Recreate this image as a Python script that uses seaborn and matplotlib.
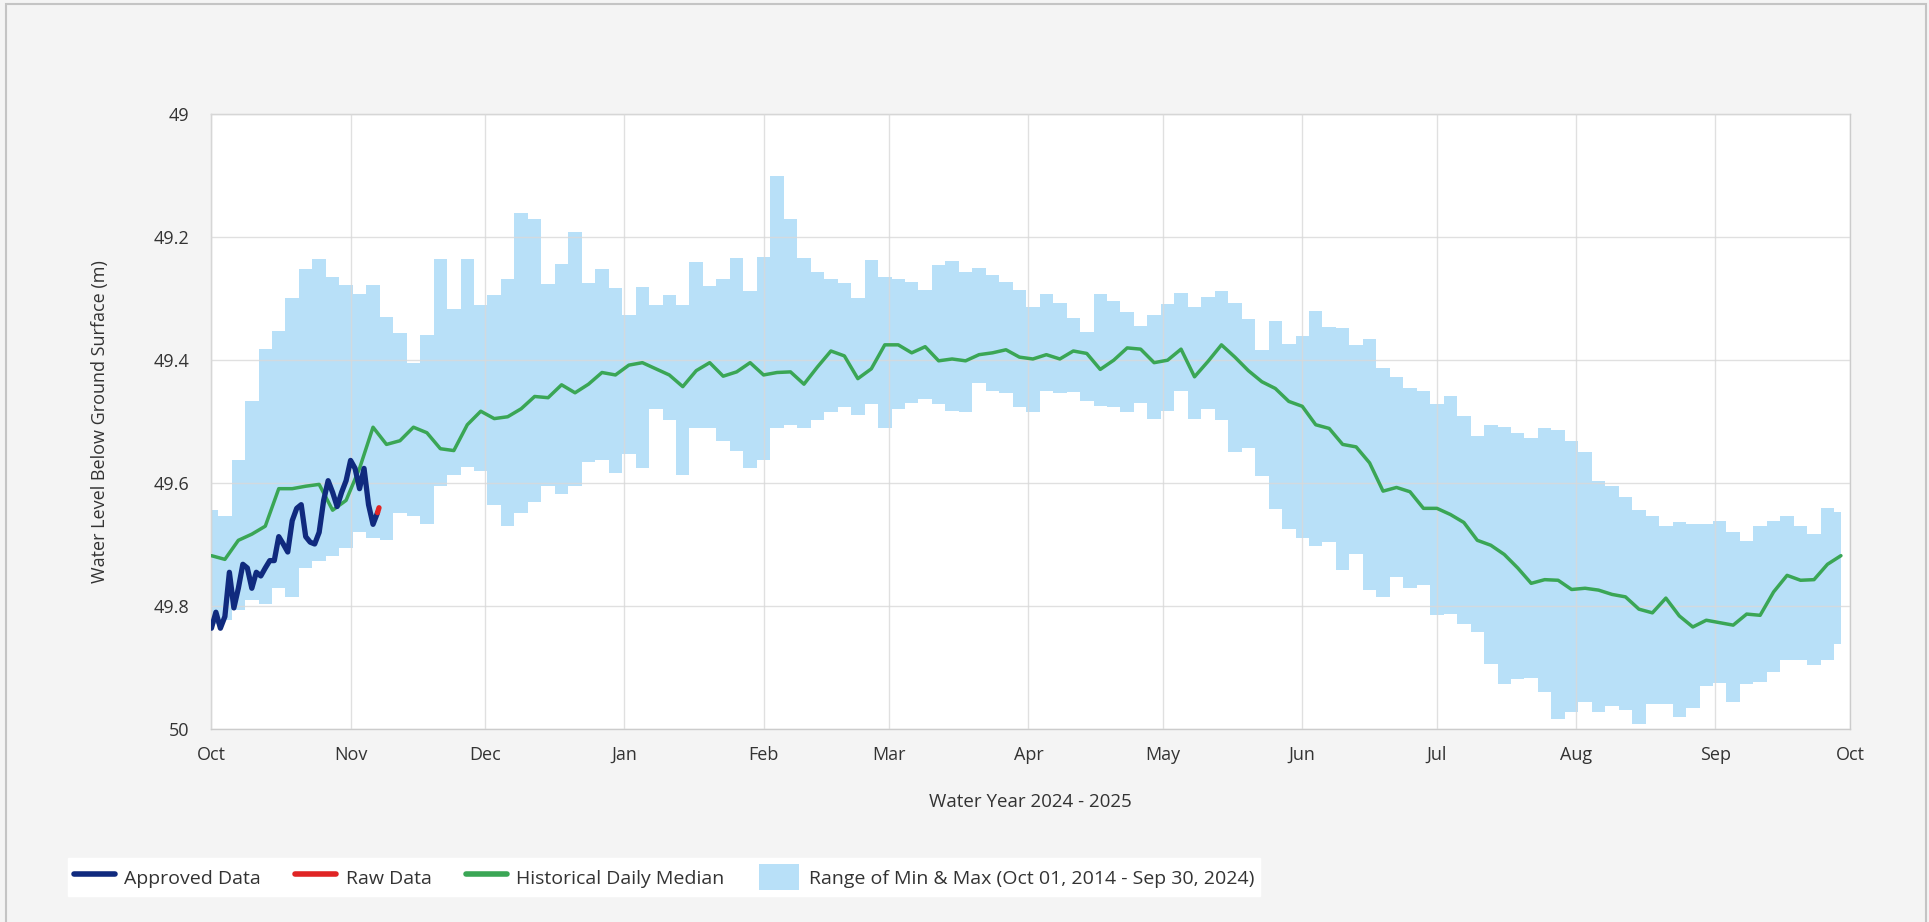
import matplotlib
matplotlib.use("Agg")
import matplotlib.pyplot as plt
import matplotlib.dates as mdates
from matplotlib.lines import Line2D
from matplotlib.patches import Patch, Rectangle
from matplotlib.ticker import FuncFormatter
import pandas as pd
import seaborn as sns

# historical daily stats, read every 3rd day starting Oct 01
hist_start = "2024-10-01"
hist_step_days = 3
hist_shallowest = [
    49.643, 49.654, 49.563, 49.466, 49.382, 49.352, 49.299, 49.252, 49.236, 49.265,
    49.278, 49.292, 49.278, 49.330, 49.356, 49.405, 49.359, 49.236, 49.317, 49.236,
    49.310, 49.294, 49.268, 49.160, 49.170, 49.276, 49.244, 49.192, 49.274, 49.252,
    49.282, 49.326, 49.281, 49.310, 49.294, 49.310, 49.241, 49.280, 49.268, 49.234,
    49.287, 49.232, 49.100, 49.170, 49.234, 49.257, 49.268, 49.274, 49.298, 49.237,
    49.265, 49.268, 49.273, 49.286, 49.245, 49.238, 49.257, 49.250, 49.262, 49.273,
    49.286, 49.313, 49.292, 49.307, 49.331, 49.354, 49.292, 49.304, 49.322, 49.344,
    49.326, 49.309, 49.291, 49.313, 49.297, 49.288, 49.307, 49.333, 49.384, 49.336,
    49.374, 49.360, 49.320, 49.346, 49.348, 49.375, 49.365, 49.413, 49.428, 49.445,
    49.450, 49.472, 49.458, 49.491, 49.523, 49.505, 49.508, 49.518, 49.526, 49.511,
    49.514, 49.532, 49.550, 49.596, 49.605, 49.622, 49.644, 49.653, 49.670, 49.664,
    49.666, 49.666, 49.661, 49.680, 49.694, 49.670, 49.662, 49.653, 49.670, 49.683,
    49.641, 49.647,
]
hist_deepest = [
    49.829, 49.823, 49.807, 49.790, 49.797, 49.771, 49.785, 49.738, 49.726, 49.719,
    49.706, 49.680, 49.690, 49.692, 49.648, 49.653, 49.667, 49.605, 49.586, 49.573,
    49.580, 49.635, 49.670, 49.649, 49.631, 49.605, 49.618, 49.605, 49.565, 49.563,
    49.583, 49.553, 49.576, 49.479, 49.498, 49.586, 49.511, 49.511, 49.531, 49.547,
    49.576, 49.563, 49.511, 49.506, 49.511, 49.498, 49.485, 49.476, 49.489, 49.472,
    49.510, 49.479, 49.469, 49.463, 49.472, 49.482, 49.484, 49.437, 49.450, 49.454,
    49.476, 49.485, 49.450, 49.453, 49.452, 49.467, 49.474, 49.476, 49.485, 49.469,
    49.495, 49.482, 49.450, 49.495, 49.480, 49.497, 49.549, 49.543, 49.589, 49.642,
    49.674, 49.690, 49.703, 49.696, 49.742, 49.716, 49.774, 49.785, 49.753, 49.770,
    49.766, 49.815, 49.813, 49.829, 49.842, 49.894, 49.927, 49.919, 49.917, 49.940,
    49.984, 49.972, 49.956, 49.972, 49.962, 49.969, 49.992, 49.959, 49.959, 49.980,
    49.966, 49.930, 49.925, 49.956, 49.927, 49.924, 49.907, 49.888, 49.888, 49.896,
    49.888, 49.862,
]
hist_median = [
    49.718, 49.724, 49.693, 49.683, 49.670, 49.609, 49.609, 49.605, 49.602, 49.644,
    49.628, 49.576, 49.509, 49.537, 49.531, 49.509, 49.518, 49.544, 49.547, 49.505,
    49.483, 49.495, 49.492, 49.479, 49.459, 49.461, 49.440, 49.453, 49.439, 49.420,
    49.424, 49.408, 49.404, 49.414, 49.424, 49.443, 49.417, 49.404, 49.426, 49.419,
    49.404, 49.424, 49.420, 49.419, 49.439, 49.411, 49.385, 49.393, 49.430, 49.414,
    49.375, 49.375, 49.388, 49.378, 49.401, 49.398, 49.401, 49.391, 49.388, 49.383,
    49.395, 49.398, 49.391, 49.398, 49.385, 49.389, 49.415, 49.400, 49.380, 49.382,
    49.404, 49.400, 49.382, 49.427, 49.402, 49.375, 49.395, 49.417, 49.435, 49.446,
    49.467, 49.475, 49.505, 49.511, 49.537, 49.541, 49.567, 49.613, 49.607, 49.614,
    49.641, 49.641, 49.651, 49.664, 49.693, 49.701, 49.716, 49.738, 49.763, 49.757,
    49.758, 49.773, 49.771, 49.774, 49.781, 49.785, 49.805, 49.811, 49.787, 49.816,
    49.834, 49.823, 49.827, 49.831, 49.813, 49.815, 49.777, 49.750, 49.758, 49.757,
    49.732, 49.718,
]

# approved daily values Oct 01 - Nov 07 2024
approved_start = "2024-10-01"
approved_values = [
    49.836, 49.810, 49.836, 49.817, 49.745, 49.803, 49.771, 49.732, 49.738, 49.771,
    49.745, 49.751, 49.738, 49.726, 49.726, 49.687, 49.699, 49.712, 49.661, 49.641,
    49.635, 49.687, 49.696, 49.699, 49.680, 49.628, 49.596, 49.615, 49.638, 49.615,
    49.596, 49.563, 49.576, 49.609, 49.576, 49.635, 49.667, 49.648,
]
raw_times = ["2024-11-07 00:00", "2024-11-07 08:00"]
raw_values = [49.648, 49.640]

y_ticks = [49.0, 49.2, 49.4, 49.6, 49.8, 50.0]
legend_labels = [
    "Approved Data",
    "Raw Data",
    "Historical Daily Median",
    "Range of Min & Max (Oct 01, 2014 - Sep 30, 2024)",
]

BAND = "#b8e0f8"
MEDIAN = "#3aa655"
APPROVED = "#102a7e"
RAW = "#e02424"
GRID = "#d9d9d9"
TEXT = "#333333"

hist = pd.DataFrame({
    "date": pd.date_range(hist_start, periods=len(hist_median), freq=f"{hist_step_days}D"),
    "shallow": hist_shallowest,
    "deep": hist_deepest,
    "median": hist_median,
})
approved = pd.DataFrame({
    "date": pd.date_range(approved_start, periods=len(approved_values), freq="D"),
    "level": approved_values,
})
raw = pd.DataFrame({"date": pd.to_datetime(raw_times), "level": raw_values})

sns.set_theme(style="whitegrid")
plt.rcParams["font.family"] = ["Open Sans", "DejaVu Sans"]

fig = plt.figure(figsize=(19.29, 9.22), dpi=100, facecolor="#f4f4f4")
ax = fig.add_axes([0.1096, 0.2093, 0.8494, 0.6667])
ax.set_facecolor("white")

ax.fill_between(hist["date"], hist["shallow"], hist["deep"], step="mid",
                color=BAND, linewidth=0, zorder=2)
sns.lineplot(data=hist, x="date", y="median", ax=ax, color=MEDIAN, linewidth=2.5, zorder=3)
sns.lineplot(data=approved, x="date", y="level", ax=ax, color=APPROVED, linewidth=3.8, zorder=4)
sns.lineplot(data=raw, x="date", y="level", ax=ax, color=RAW, linewidth=3.8, zorder=5)

ax.set_xlim(pd.Timestamp("2024-10-01"), pd.Timestamp("2025-10-01"))
ax.set_ylim(50.0, 49.0)
ax.set_yticks(y_ticks)
ax.yaxis.set_major_formatter(FuncFormatter(lambda v, _: f"{v:g}"))
ax.xaxis.set_major_locator(mdates.MonthLocator())
ax.xaxis.set_major_formatter(mdates.DateFormatter("%b"))

ax.grid(True, color=GRID, linewidth=1.0, zorder=1)
ax.set_axisbelow(False)
for line in ax.get_xgridlines() + ax.get_ygridlines():
    line.set_zorder(2.5)
    line.set_alpha(0.8)
for side in ["top", "right", "left", "bottom"]:
    ax.spines[side].set_color("#cccccc")
    ax.spines[side].set_linewidth(1.0)

ax.tick_params(axis="y", length=14, width=1, color="#cccccc", pad=2, labelsize=13, labelcolor=TEXT)
ax.tick_params(axis="x", length=6, width=1, color="#cccccc", pad=6, labelsize=13, labelcolor=TEXT)
ax.set_xlabel("Water Year 2024 - 2025", fontsize=13.5, color=TEXT, labelpad=21)
ax.set_ylabel("Water Level Below Ground Surface (m)", fontsize=13, color=TEXT, labelpad=32)

fig.patches.append(Rectangle((6 / 1929, -0.01), 1920 / 1929, 1.0057, transform=fig.transFigure,
                             facecolor="none", edgecolor="#c4c4c4", linewidth=1.5, zorder=0))

handles = [
    Line2D([], [], color=APPROVED, linewidth=4),
    Line2D([], [], color=RAW, linewidth=4),
    Line2D([], [], color=MEDIAN, linewidth=4),
    Patch(facecolor=BAND, edgecolor="none"),
]
leg = fig.legend(handles, legend_labels, loc="lower left", bbox_to_anchor=(0.0353, 0.028),
                 ncol=4, frameon=True, fancybox=False, facecolor="white", edgecolor="white",
                 framealpha=1, fontsize=14, handlelength=2.1, handleheight=1.7,
                 handletextpad=0.5, columnspacing=1.75, borderpad=0.3, borderaxespad=0)
for txt in leg.get_texts():
    txt.set_color(TEXT)

fig.savefig("out.png", dpi=100, facecolor=fig.get_facecolor())
